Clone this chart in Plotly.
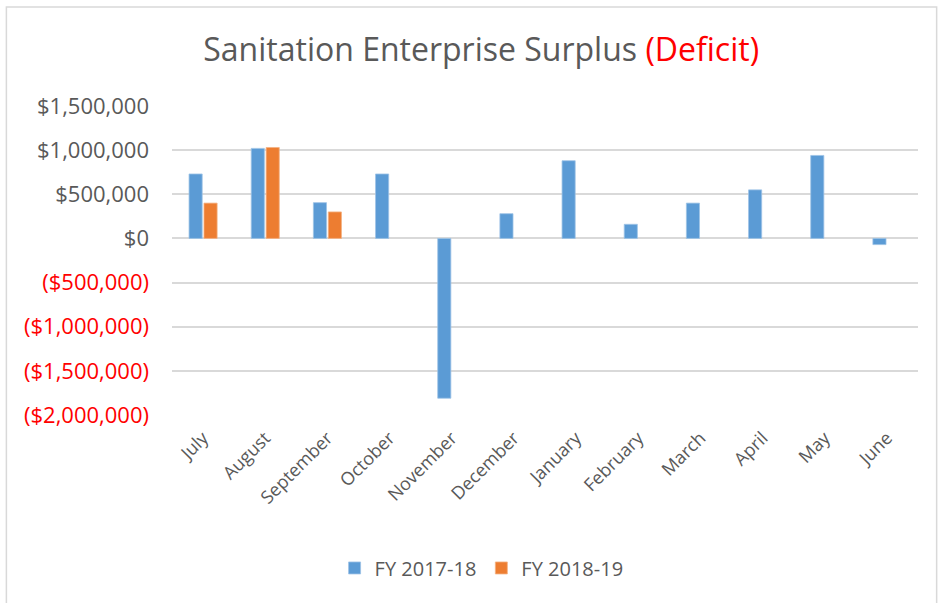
import plotly.graph_objects as go

months = ['July', 'August', 'September', 'October', 'November', 'December',
          'January', 'February', 'March', 'April', 'May', 'June']
fy_2017_18 = [730000, 1020000, 405000, 730000, -1810000, 280000,
              880000, 160000, 400000, 550000, 940000, -70000]
fy_2018_19 = [400000, 1030000, 300000, None, None, None,
              None, None, None, None, None, None]

tick_vals = [1500000, 1000000, 500000, 0, -500000, -1000000, -1500000, -2000000]
tick_text = ['$1,500,000', '$1,000,000', '$500,000', '$0',
             '<span style="color:#FF0000">($500,000)</span>',
             '<span style="color:#FF0000">($1,000,000)</span>',
             '<span style="color:#FF0000">($1,500,000)</span>',
             '<span style="color:#FF0000">($2,000,000)</span>']

FONT = 'Open Sans, sans-serif'
GRAY = '#595959'

fig = go.Figure(data=[
    go.Bar(name='FY 2017-18', x=months, y=fy_2017_18,
           marker=dict(color='#5B9BD5', line=dict(color='#9DC3E6', width=0.8))),
    go.Bar(name='FY 2018-19', x=months, y=fy_2018_19,
           marker=dict(color='#ED7D31', line=dict(color='#F4B183', width=0.8))),
])

fig.update_layout(
    width=938, height=603,
    paper_bgcolor='white', plot_bgcolor='white',
    font=dict(family=FONT, color=GRAY),
    title=dict(
        text='Sanitation Enterprise Surplus <span style="color:#FF0000">(Deficit)</span>',
        x=0.513, xanchor='center', y=0.917, yanchor='middle',
        font=dict(size=32, color=GRAY, family=FONT)
    ),
    barmode='group',
    bargap=0.52,
    bargroupgap=0.12,
    showlegend=True,
    legend=dict(
        orientation='h', xanchor='center', x=0.415, yanchor='middle', y=-0.495,
        font=dict(size=20, color=GRAY), itemwidth=30, traceorder='normal'
    ),
    margin=dict(l=172, r=20, t=106, b=188),
    xaxis=dict(tickangle=-45, tickfont=dict(size=18, color=GRAY),
               showgrid=False, showline=False, ticks='', ticklabelstandoff=8),
    yaxis=dict(range=[-2000000, 1500000], tickvals=tick_vals, ticktext=tick_text,
               tickfont=dict(size=22, color=GRAY), gridcolor='#D9D9D9', gridwidth=1.5,
               zeroline=True, zerolinecolor='#D9D9D9', zerolinewidth=1.5,
               ticklabelstandoff=22),
    # light chart border like the spreadsheet chart area
    shapes=[dict(type='rect', xref='paper', yref='paper',
                 x0=-0.222, x1=1.025, y0=-0.7, y1=1.32,
                 line=dict(color='#D9D9D9', width=1.5), layer='below')],
)

# drop the default page margin so the figure sits at the window origin
fig.write_html('out.html', config={'displayModeBar': False},
               post_script="document.body.style.margin='0';")
